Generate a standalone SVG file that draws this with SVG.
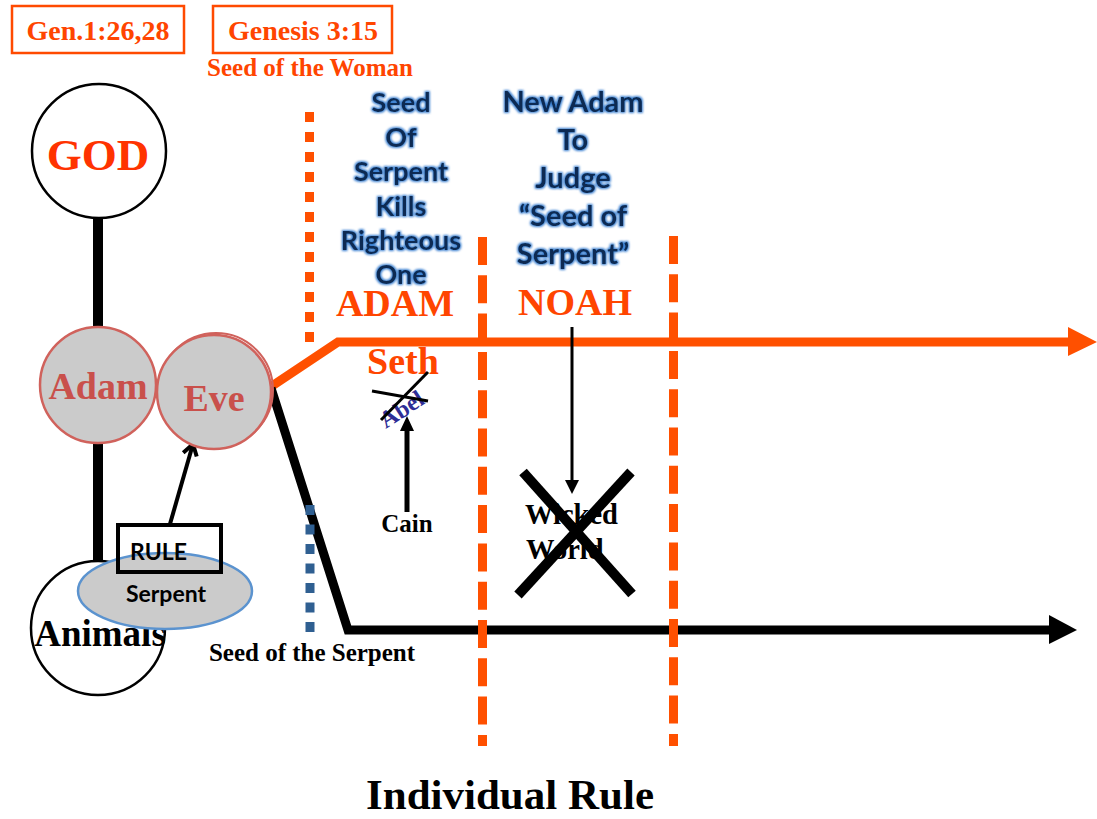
<svg xmlns="http://www.w3.org/2000/svg" width="1097" height="819" viewBox="0 0 1097 819">
<style>
.serif{font-family:"Liberation Serif","Times New Roman",serif;font-weight:bold}
.sans{font-family:Lato,"Open Sans",sans-serif;font-weight:bold}
.red{fill:#ff4500}
.blue{fill:#0b2a52;font-size:27px;text-anchor:middle;filter:url(#glow)}
.ref{fill:#fff;stroke:#ff4a00;stroke-width:2.5}
.pers{fill:#cbcbcb;stroke:#d0625c;stroke-width:2.5}
.pname{fill:#c9504b;font-size:38px;text-anchor:middle}
.era{fill:none;stroke:#ff5000;stroke-width:9;stroke-dasharray:28 10.3}
</style>
<defs>
<filter id="glow" x="-20%" y="-30%" width="140%" height="160%">
<feMorphology in="SourceAlpha" operator="dilate" radius="1.2" result="d"/>
<feGaussianBlur in="d" stdDeviation="1.3" result="b"/>
<feFlood flood-color="#3a7fd0"/>
<feComposite in2="b" operator="in" result="g"/>
<feMerge><feMergeNode in="g"/><feMergeNode in="SourceGraphic"/></feMerge>
</filter>
<marker id="openArrow" markerWidth="18" markerHeight="18" refX="13" refY="9" orient="auto" markerUnits="userSpaceOnUse">
<path d="M2,2 L13,9 L2,16" fill="none" stroke="#000" stroke-width="4"/>
</marker>
</defs>
<rect width="1097" height="819" fill="#fff"/>

<g id="connectors">
<line x1="98" y1="218" x2="98" y2="565" stroke="#000" stroke-width="10"/>
<polyline points="272,386 338,342 1070,342" fill="none" stroke="#ff5000" stroke-width="9"/>
<polygon points="1068,327 1097,342 1068,356" fill="#ff5000"/>
<polyline points="271,388 348,630 1051,630" fill="none" stroke="#000" stroke-width="9"/>
<polygon points="1049,615 1077,630 1049,644" fill="#000"/>
<line x1="309.5" y1="112" x2="309.5" y2="352" stroke="#ff5000" stroke-width="9" stroke-dasharray="10 10"/>
<line x1="310" y1="505" x2="310" y2="632" stroke="#2f5f91" stroke-width="9" stroke-dasharray="10 9.5"/>
<line class="era" x1="482.5" y1="237" x2="482.5" y2="746"/>
<line class="era" x1="673.5" y1="236" x2="673.5" y2="746"/>
<line x1="170" y1="524" x2="193" y2="444" stroke="#000" stroke-width="4" marker-end="url(#openArrow)"/>
<line x1="407" y1="512" x2="407" y2="428" stroke="#000" stroke-width="5"/>
<polygon points="400,431 407,416 414,431" fill="#000"/>
<line x1="572" y1="327" x2="572" y2="482" stroke="#000" stroke-width="3"/>
<polygon points="565,480 572,494 579,480" fill="#000"/>
</g>

<g id="ref-gen1">
<rect class="ref" x="12" y="6" width="172" height="47"/>
<text class="serif red" x="98" y="40" font-size="28" text-anchor="middle">Gen.1:26,28</text>
</g>
<g id="ref-gen3">
<rect class="ref" x="213" y="6" width="179" height="47"/>
<text class="serif red" x="303" y="40" font-size="28" text-anchor="middle">Genesis 3:15</text>
<text class="serif red" x="310" y="76" font-size="25" text-anchor="middle">Seed of the Woman</text>
</g>

<g id="god">
<circle cx="99" cy="151" r="67" fill="#fff" stroke="#000" stroke-width="2.5"/>
<text class="serif" x="98" y="170" font-size="45" fill="#ff3300" text-anchor="middle">GOD</text>
</g>

<g id="adam">
<circle class="pers" cx="98" cy="385" r="58"/>
<text class="serif pname" x="98" y="399">Adam</text>
</g>

<g id="eve">
<circle cx="216" cy="390" r="57" fill="none" stroke="#d0625c" stroke-width="2"/>
<circle class="pers" cx="214" cy="392" r="57"/>
<text class="serif pname" x="214" y="411">Eve</text>
</g>

<g id="animals">
<circle cx="98" cy="628" r="67" fill="#fff" stroke="#000" stroke-width="2.5"/>
<text class="serif" x="100" y="646" font-size="37" text-anchor="middle" fill="#000">Animals</text>
</g>

<g id="serpent">
<ellipse cx="165" cy="591" rx="87" ry="38" fill="#cbcbcb" stroke="#5b93cf" stroke-width="2.5"/>
<text class="sans" x="166" y="602" font-size="23" text-anchor="middle" fill="#000">Serpent</text>
</g>

<g id="rule">
<rect x="118" y="525" width="103" height="47" fill="none" stroke="#000" stroke-width="4"/>
<text class="sans" x="130" y="560" font-size="23" fill="#000">RULE</text>
</g>

<g id="seed-of-serpent-kills">
<text class="sans blue" x="401"><tspan x="401" y="112">Seed</tspan><tspan x="401" y="147">Of</tspan><tspan x="401" y="181">Serpent</tspan><tspan x="401" y="216">Kills</tspan><tspan x="401" y="250">Righteous</tspan><tspan x="401" y="284">One</tspan></text>
</g>

<g id="new-adam">
<text class="sans blue" x="573" style="font-size:29px"><tspan x="573" y="112">New Adam</tspan><tspan x="573" y="150">To</tspan><tspan x="573" y="188">Judge</tspan><tspan x="573" y="226">“Seed of</tspan><tspan x="573" y="264">Serpent”</tspan></text>
</g>

<g id="adam-era">
<text class="serif red" x="395" y="316" font-size="38" text-anchor="middle">ADAM</text>
</g>
<g id="noah-era">
<text class="serif red" x="575" y="315" font-size="38" text-anchor="middle">NOAH</text>
</g>

<g id="seth">
<text class="serif red" x="403" y="374" font-size="38" text-anchor="middle">Seth</text>
</g>

<g id="abel">
<text class="serif" x="0" y="0" font-size="24" fill="#2e2e96" text-anchor="middle" transform="translate(406,416) rotate(-33)">Abel</text>
<line x1="372" y1="391" x2="428" y2="401" stroke="#000" stroke-width="3"/>
<line x1="381" y1="420" x2="428" y2="372" stroke="#000" stroke-width="3"/>
</g>

<g id="cain">
<text class="serif" x="407" y="532" font-size="25" text-anchor="middle" fill="#000">Cain</text>
</g>

<g id="wicked-world">
<text class="serif" font-size="28.5" fill="#000"><tspan x="525" y="524">Wicked</tspan><tspan x="526" y="559">World</tspan></text>
<line x1="523" y1="472" x2="632" y2="594" stroke="#000" stroke-width="10"/>
<line x1="631" y1="472" x2="518" y2="595" stroke="#000" stroke-width="10"/>
</g>

<g id="seed-of-serpent">
<text class="serif" x="312" y="661" font-size="25" text-anchor="middle" fill="#000">Seed of the Serpent</text>
</g>

<g id="title">
<text class="serif" x="510" y="809" font-size="43" text-anchor="middle" fill="#000">Individual Rule</text>
</g>
</svg>
